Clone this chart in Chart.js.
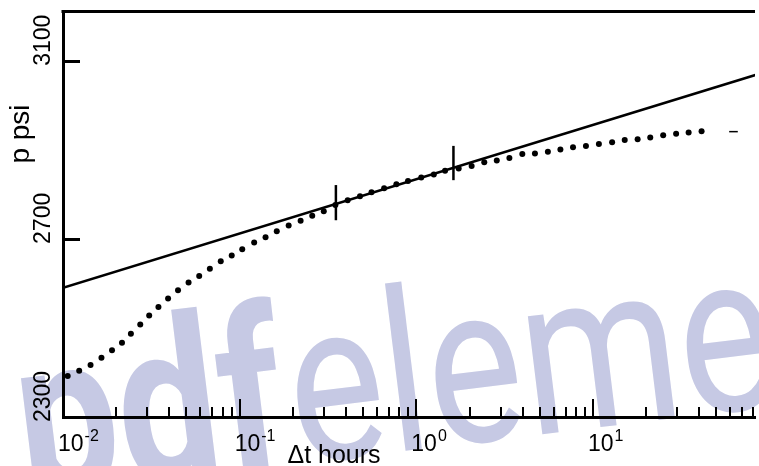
<!DOCTYPE html>
<html>
<head>
<meta charset="utf-8">
<script src="https://cdn.jsdelivr.net/npm/chart.js@4.4.0/dist/chart.umd.min.js"></script>
<style>
  html, body { margin: 0; padding: 0; background: #fff; }
</style>
</head>
<body>
<canvas id="buildupChart" width="759" height="466"></canvas>
<script>
// pressure buildup points
const dtHours = [0.01063, 0.01235, 0.01432, 0.01651, 0.01894, 0.02157, 0.02423, 0.02737, 0.03075, 0.03469,
    0.03934, 0.04478, 0.05137, 0.05902, 0.0678, 0.07815, 0.09016, 0.1034, 0.1208, 0.1401,
    0.1622, 0.1894, 0.2213, 0.2575, 0.2993, 0.3482, 0.4086, 0.4797, 0.5576, 0.6572,
    0.7707, 0.8969, 1.066, 1.256, 1.454, 1.737, 2.056, 2.424, 2.853, 3.363,
    3.98, 4.692, 5.554, 6.538, 7.706, 9.121, 10.8, 12.83, 15.12, 17.89,
    21.09, 24.96, 29.54, 34.78, 41.17];
const pPsi = [2392, 2404, 2417, 2433, 2450, 2467, 2487, 2508, 2528, 2547,
    2566, 2585, 2602, 2617, 2633, 2650, 2663, 2677, 2692, 2704,
    2717, 2730, 2741, 2752, 2762, 2776, 2787, 2796, 2805, 2814,
    2823, 2830, 2838, 2845, 2853, 2858, 2864, 2872, 2876, 2882,
    2891, 2892, 2896, 2901, 2906, 2909, 2913, 2917, 2922, 2924,
    2928, 2933, 2936, 2939, 2942];

// semilog straight line
const lineHours = [0.01, 100];
const linePsi = [2590, 3078];

// short marks at start and end of the straight line section
const markHours = [0.3505, 1.622];
const markLowPsi = [2742, 2832];
const markHighPsi = [2821, 2909];

// little dash after the last point
const dashHours = [59, 66];
const dashPsi = [2941, 2941];

// axes
const xDecades = [0.01, 0.1, 1, 10];
const xExponents = ['-2', '-1', '0', '1'];
const yTicks = [2300, 2700, 3100];
const xMin = 0.01, xMax = 82.6;
const yMin = 2300, yMax = 3212;

const FONT = '"Liberation Sans", Arial, Helvetica, sans-serif';

const ctx = document.getElementById('buildupChart').getContext('2d');

var datasets = [];
datasets.push({
    data: dtHours.map((t, i) => ({x: t, y: pPsi[i]})),
    showLine: false,
    pointRadius: 3,
    pointBackgroundColor: '#000',
    pointBorderWidth: 0
});
datasets.push({
    data: lineHours.map((t, i) => ({x: t, y: linePsi[i]})),
    showLine: true,
    borderColor: '#000',
    borderWidth: 2.5,
    pointRadius: 0
});
markHours.forEach((t, i) => {
    datasets.push({
        data: [{x: t, y: markLowPsi[i]}, {x: t, y: markHighPsi[i]}],
        showLine: true,
        borderColor: '#000',
        borderWidth: 2.5,
        pointRadius: 0
    });
});
datasets.push({
    data: dashHours.map((t, i) => ({x: t, y: dashPsi[i]})),
    showLine: true,
    borderColor: '#000',
    borderWidth: 1.5,
    pointRadius: 0
});

// watermark behind, ticks drawn inward, labels with superscripts
const decorPlugin = {
    id: 'decor',
    beforeDraw(chart) {
        const c = chart.ctx;
        c.save();
        c.fillStyle = '#c6c9e4';
        c.translate(6, 500);
        c.rotate(-7 * Math.PI / 180);
        c.scale(0.8, 1);
        c.font = 'bold 225px Roboto, ' + FONT;
        const w = c.measureText('pdf').width;
        c.fillText('pdf', 25, 0);
        c.font = '225px Roboto, ' + FONT;
        c.fillText('element', w + 33, 0);
        c.restore();
    },
    afterDraw(chart) {
        const c = chart.ctx;
        const area = chart.chartArea;
        const xs = chart.scales.x;
        const ys = chart.scales.y;
        c.save();
        c.strokeStyle = '#000';
        c.fillStyle = '#000';

        // top frame line
        c.lineWidth = 3;
        c.beginPath();
        c.moveTo(area.left - 1.5, area.top + 0.5);
        c.lineTo(area.right, area.top + 0.5);
        c.stroke();

        // x tick marks pointing up
        c.lineWidth = 2;
        xs.ticks.forEach(tk => {
            const px = Math.round(xs.getPixelForValue(tk.value));
            const len = tk.major ? 18 : 10;
            c.beginPath();
            c.moveTo(px, area.bottom);
            c.lineTo(px, area.bottom - len);
            c.stroke();
        });

        // y tick marks pointing right
        c.lineWidth = 3;
        ys.ticks.forEach(tk => {
            const py = Math.round(ys.getPixelForValue(tk.value)) + 0.5;
            c.beginPath();
            c.moveTo(area.left, py);
            c.lineTo(area.left + 17, py);
            c.stroke();
        });

        // x labels 10^n
        c.textBaseline = 'alphabetic';
        c.textAlign = 'left';
        xDecades.forEach((v, i) => {
            const px = xs.getPixelForValue(v);
            c.font = '23px ' + FONT;
            c.fillText('10', px - 5, 451);
            const w = c.measureText('10').width;
            c.font = '16px ' + FONT;
            c.fillText(xExponents[i], px - 4 + w, 441);
        });

        // y labels, rotated
        c.font = '23px ' + FONT;
        ys.ticks.forEach(tk => {
            const py = ys.getPixelForValue(tk.value);
            c.save();
            c.translate(44, py + 5);
            c.rotate(-Math.PI / 2);
            c.textAlign = 'left';
            c.textBaseline = 'middle';
            c.fillText(String(tk.value), 0, 0);
            c.restore();
        });

        // axis titles
        c.font = '25px ' + FONT;
        c.textAlign = 'center';
        c.textBaseline = 'alphabetic';
        c.fillText('\u0394t hours', 334, 463);
        c.save();
        c.translate(29, 134);
        c.rotate(-Math.PI / 2);
        c.font = '28px ' + FONT;
        c.fillText('p psi', 0, 0);
        c.restore();

        c.restore();
    }
};

const chart = new Chart(ctx, {
    type: 'scatter',
    data: { datasets: datasets },
    options: {
        responsive: false,
        animation: false,
        layout: { padding: { top: 11, left: 0, right: 0, bottom: 0 } },
        plugins: {
            legend: { display: false },
            tooltip: { enabled: false }
        },
        scales: {
            x: {
                type: 'logarithmic',
                min: xMin,
                max: xMax,
                grid: { display: false },
                border: { display: true, color: '#000', width: 3 },
                ticks: { display: false },
                afterBuildTicks: (scale) => {
                    var t = [];
                    xDecades.forEach(d => {
                        for (let m = 1; m < 10; m++) {
                            const v = m * d;
                            if (v >= xMin && v <= xMax) t.push({value: v, major: m === 1});
                        }
                    });
                    scale.ticks = t;
                },
                afterFit: (scale) => { scale.height = 49; }
            },
            y: {
                min: yMin,
                max: yMax,
                grid: { display: false },
                border: { display: true, color: '#000', width: 3 },
                ticks: { display: false },
                afterBuildTicks: (scale) => {
                    scale.ticks = yTicks.map(v => ({value: v}));
                },
                afterFit: (scale) => { scale.width = 63; }
            }
        }
    },
    plugins: [decorPlugin]
});
</script>
</body>
</html>
